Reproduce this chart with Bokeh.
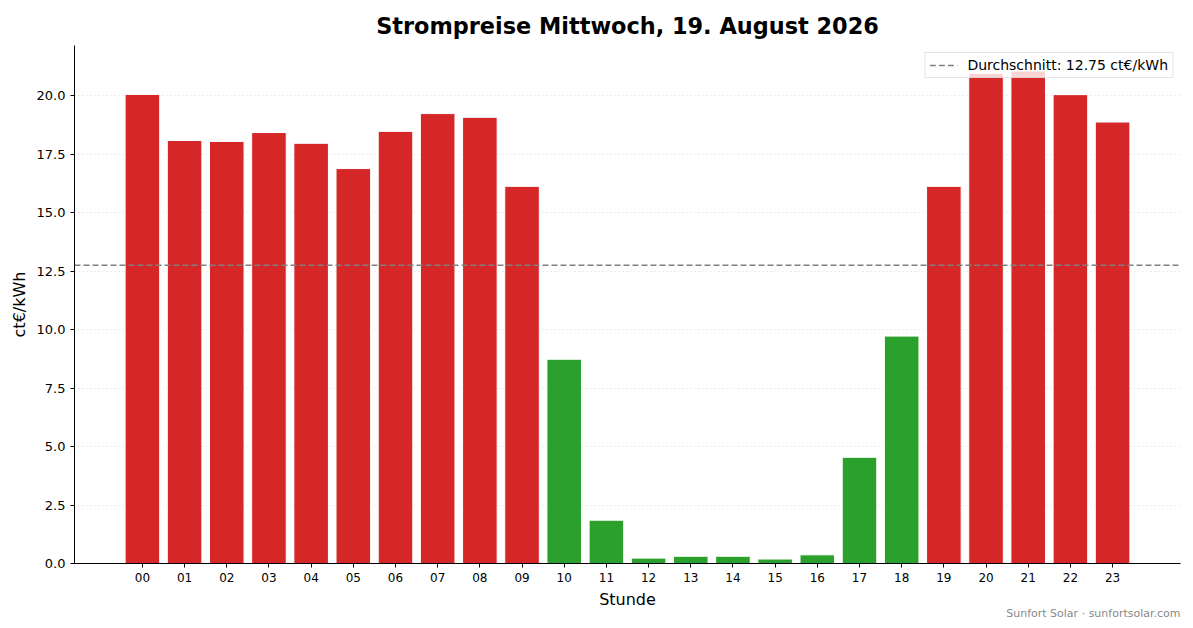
from bokeh.plotting import figure
from bokeh.models import FixedTicker, Legend, LegendItem, Title, NumeralTickFormatter, ColumnDataSource
from bokeh.embed import file_html
from bokeh.resources import INLINE

# Stundenpreise (ct/kWh)
hours = ["00", "01", "02", "03", "04", "05", "06", "07", "08", "09", "10", "11",
         "12", "13", "14", "15", "16", "17", "18", "19", "20", "21", "22", "23"]
prices = [20.05, 18.08, 18.04, 18.42, 17.96, 16.88, 18.47, 19.23, 19.07, 16.12, 8.73, 1.85,
          0.23, 0.31, 0.31, 0.19, 0.37, 4.54, 9.72, 16.12, 20.95, 21.05, 20.04, 18.87]
avg_price = 12.75
y_ticks = [0, 2.5, 5, 7.5, 10, 12.5, 15, 17.5, 20]

RED = "#d62728"
GREEN = "#2ca02c"
FONT = "DejaVu Sans"

xs = list(range(len(hours)))
colors = [GREEN if v < avg_price else RED for v in prices]
src = ColumnDataSource(dict(x=xs, top=prices, color=colors))

p = figure(width=1193, height=628, x_range=(-1.61, 24.61), y_range=(0, 22.14),
           output_backend="svg", toolbar_location=None,
           min_border_left=74, min_border_right=13, min_border_top=45, min_border_bottom=65)

p.title.text = "Strompreise Mittwoch, 19. August 2026"
p.title.align = "center"
p.title.vertical_align = "top"
p.title.text_font = FONT
p.title.text_font_size = "22.4px"
p.title.text_font_style = "bold"
p.title.text_color = "black"

p.vbar(x="x", top="top", width=0.82, fill_color="color", line_color="white",
       line_width=1, source=src)

# Durchschnittslinie ueber die ganze Breite
avg_line = p.line(x=[p.x_range.start, p.x_range.end], y=[avg_price, avg_price],
                  line_color="#808080", line_dash="6 3", line_width=1.5)
legend = Legend(items=[LegendItem(label=f"Durchschnitt: {avg_price:.2f} ct€/kWh", renderers=[avg_line])],
                location="top_right", label_text_font=FONT, label_text_font_size="14px",
                label_text_color="black",
                border_line_color="#cccccc", background_fill_alpha=0.8,
                glyph_width=28, glyph_height=16, padding=4, spacing=0, margin=7,
                label_standoff=10)
p.add_layout(legend)

p.xaxis.ticker = FixedTicker(ticks=xs)
p.xaxis.major_label_overrides = {i: h for i, h in enumerate(hours)}
p.yaxis.ticker = FixedTicker(ticks=y_ticks)
p.yaxis.formatter = NumeralTickFormatter(format="0.0")

for ax in (p.xaxis, p.yaxis):
    ax.axis_line_color = "black"
    ax.major_tick_line_color = "black"
    ax.major_tick_out = 4
    ax.major_tick_in = 0
    ax.minor_tick_line_color = None
    ax.major_label_text_font = FONT
    ax.major_label_text_color = "black"
    ax.axis_label_text_font = FONT
    ax.axis_label_text_color = "black"
    ax.axis_label_text_font_style = "normal"
    ax.axis_label_text_font_size = "16px"

p.xaxis.major_label_text_font_size = "12px"
p.yaxis.major_label_text_font_size = "13px"
p.xaxis.axis_label = "Stunde"
p.yaxis.axis_label = "ct€/kWh"

p.xgrid.grid_line_color = None
p.ygrid.grid_line_color = "#dddddd"
p.ygrid.grid_line_dash = "1 3"
p.outline_line_color = None

p.add_layout(Title(text="Sunfort Solar · sunfortsolar.com", align="right",
                   text_font=FONT, text_font_size="11px", text_color="#888888",
                   text_font_style="normal", standoff=-14, text_line_height=0.6), "below")

open("out.html", "w").write(file_html(p, INLINE))
